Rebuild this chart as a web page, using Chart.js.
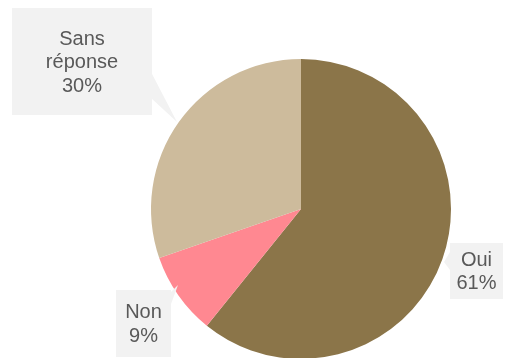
<!DOCTYPE html>
<html>
<head>
<meta charset="utf-8">
<script src="https://cdn.jsdelivr.net/npm/chart.js@4/dist/chart.umd.min.js"></script>
<style>
  html, body { margin: 0; padding: 0; background: #fff; overflow: hidden; }
</style>
</head>
<body>
<canvas id="pieChart" width="505" height="362"></canvas>
<script>
// réponses (share of answers)
var categories = ["Oui", "Non", "Sans réponse"];
var values = [60.8, 8.9, 30.3];
var sliceColors = ["#8b7549", "#ff8891", "#cdbb9c"];

// callout boxes: box rectangle, pointer base on the box edge and tip on the pie
var callouts = [
  { box: [450, 243, 53, 56], base: [[450, 252], [450, 270]], tip: [444, 262] },
  { box: [116, 290, 55, 67], base: [[171, 292], [171, 304]], tip: [178, 285] },
  { box: [12, 8, 140, 107], base: [[151, 72], [151, 98]], tip: [177, 122] }
];

var calloutPlugin = {
  id: 'callouts',
  afterDraw: function(chart) {
    var ctx = chart.ctx;
    var total = values.reduce(function(a, b) { return a + b; }, 0);
    ctx.save();
    callouts.forEach(function(c, i) {
      var b = c.box;
      ctx.fillStyle = "#f2f2f2";
      ctx.fillRect(b[0], b[1], b[2], b[3]);
      ctx.beginPath();
      ctx.moveTo(c.base[0][0], c.base[0][1]);
      ctx.lineTo(c.tip[0], c.tip[1]);
      ctx.lineTo(c.base[1][0], c.base[1][1]);
      ctx.closePath();
      ctx.fill();

      var pct = Math.round(values[i] / total * 100) + "%";
      var lines = categories[i].split(" ").concat([pct]);
      ctx.fillStyle = "#595959";
      ctx.font = "20px 'Liberation Sans', Arial, sans-serif";
      ctx.textAlign = "center";
      ctx.textBaseline = "middle";
      var lh = 23.5;
      var cx = b[0] + b[2] / 2;
      var cy = b[1] + b[3] / 2 + 1;
      var y0 = cy - (lines.length - 1) * lh / 2;
      lines.forEach(function(t, k) {
        ctx.fillText(t, cx, y0 + k * lh);
      });
    });
    ctx.restore();
  }
};

var ctx1 = document.getElementById("pieChart");
var pieChart = new Chart(ctx1, {
  type: 'pie',
  data: {
    labels: categories,
    datasets: [{
      data: values,
      backgroundColor: sliceColors,
      borderWidth: 0
    }]
  },
  options: {
    responsive: false,
    animation: false,
    layout: { padding: { left: 151, right: 54, top: 59, bottom: 3 } },
    plugins: {
      legend: { display: false },
      tooltip: { enabled: false }
    }
  },
  plugins: [calloutPlugin]
});
</script>
</body>
</html>
